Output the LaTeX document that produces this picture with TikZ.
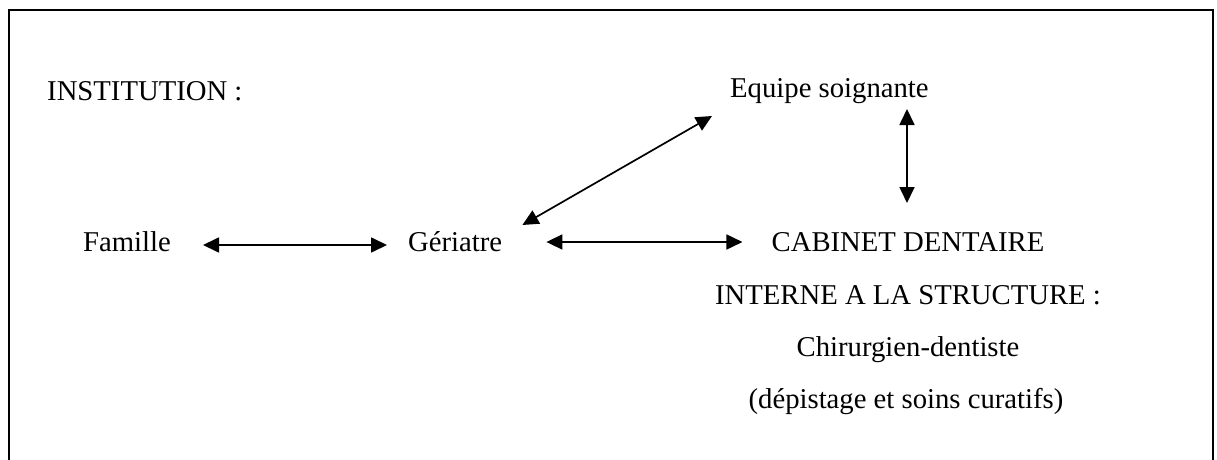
\documentclass[tikz,border=0pt]{standalone}
\usepackage{fontspec}
\setmainfont{Liberation Serif}
\usetikzlibrary{arrows.meta,calc}
\begin{document}
\begin{tikzpicture}[x=1pt,y=-1pt,
 lbl/.style={inner sep=0pt,anchor=base,font=\fontsize{28.7}{34}\selectfont},
 arr/.style={line width=1.7pt,{Triangle[length=16pt,width=15pt]}-{Triangle[length=16pt,width=15pt]}}]
\useasboundingbox (0,0) rectangle (1217,460);
\draw[line width=2.2pt] (9,462) -- (9,10) -- (1213,10) -- (1213,462);
\node[lbl,anchor=base west] (inst) at (47,100) {INSTITUTION :};
\node[lbl,anchor=base west] (equipe) at (730,97) {Equipe soignante};
\node[lbl,anchor=base east] (famille) at (171,251) {Famille};
\node[lbl,anchor=base west] (geriatre) at (408,251) {Gériatre};
\node[lbl] (cab1) at (908,251) {CABINET DENTAIRE};
\node[lbl] (cab2) at (908,304) {INTERNE A LA STRUCTURE :};
\node[lbl] (cab3) at (908,356) {Chirurgien-dentiste};
\node[lbl] (cab4) at (906,408) {(dépistage et soins curatifs)};
\draw[arr] ([xshift=32pt,yshift=6pt]famille.base east) -- ([xshift=-21pt,yshift=6pt]geriatre.base west);
\draw[arr] ([xshift=44pt,yshift=9pt]geriatre.base east) -- ([xshift=-29pt,yshift=9pt]cab1.base west);
\draw[arr] ([xshift=20pt,yshift=26pt]geriatre.base east) -- ([xshift=-18pt,yshift=-19pt]equipe.base west);
\draw[arr] ($(equipe.base -| cab1.base)+(-1,12)$) -- ($(cab1.base)+(-1,-48)$);
\end{tikzpicture}
\end{document}
